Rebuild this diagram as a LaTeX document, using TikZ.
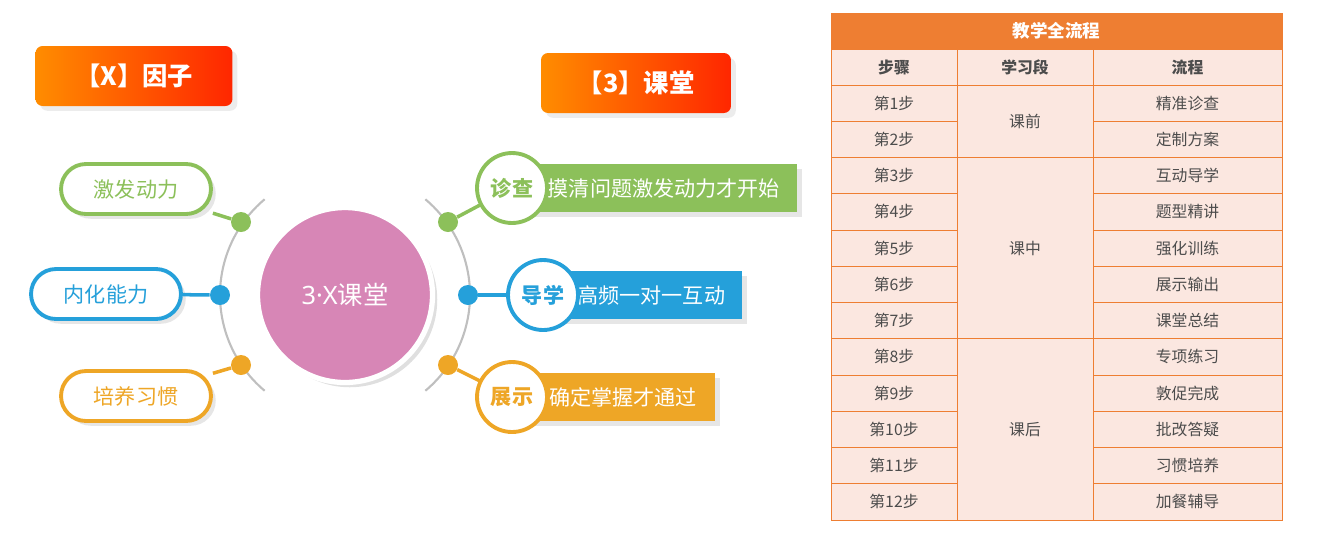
\documentclass[tikz,border=0pt]{standalone}
\usepackage{fontspec}
\setmainfont{Noto Sans CJK SC}
\newfontfamily\latinfont{Noto Sans}
\usetikzlibrary{positioning, calc, shadows}

\definecolor{hdorange}{HTML}{EE7E32}
\definecolor{cellpink}{HTML}{FBE7E0}
\definecolor{pinkc}{HTML}{D786B6}
\definecolor{greenc}{HTML}{8CC05A}
\definecolor{bluec}{HTML}{25A0DA}
\definecolor{orangec}{HTML}{EEA626}

\tikzset{
  tagbox/.style={rounded corners=4pt, left color=orange!90!yellow, right color=red!70!orange,
    text=white, font=\bfseries\Large, minimum height=1.2cm, drop shadow={opacity=0.15}},
  pill/.style={draw=#1, line width=2.2pt, fill=white, rounded corners=0.5cm, text=#1,
    font=\large, minimum width=3cm, minimum height=1cm, drop shadow={opacity=0.2}},
  dot/.style={circle, fill=#1, inner sep=0pt, minimum size=0.4cm},
  bar/.style={fill=#1, text=white, font=\large, minimum height=0.95cm, anchor=west,
    inner xsep=0.1cm, drop shadow={opacity=0.2}},
  badge/.style={circle, draw=#1, line width=2.2pt, fill=white, text=#1, font=\bfseries\large,
    minimum size=1.4cm, inner sep=0pt},
  cell/.style={draw=hdorange, fill=cellpink, text=black!70, font=\small, inner sep=0pt},
}

\begin{document}
\begin{tikzpicture}[x=0.02cm, y=-0.02cm]
  \useasboundingbox (0,0) rectangle (1327,542);

  % title tags
  \node[tagbox, minimum width=3.94cm] (tagX) at (134,76) {【X】因子};
  \node[tagbox, minimum width=3.8cm] (tag3) at (636,83) {【3】课堂};

  % centre
  \draw[black!25, line width=1.2pt] (345,295) ++(130:125) arc[start angle=130, end angle=230, radius=125];
  \draw[black!25, line width=1.2pt] (345,295) ++(50:125) arc[start angle=50, end angle=-50, radius=125];
  \node[circle, fill=pinkc, draw=white, line width=3pt, minimum size=3.5cm, text=white,
    font=\Large, drop shadow={opacity=0.25}] (core) at (345,295) {{\latinfont 3·X}课堂};

  % left factors
  \node[dot=greenc] (dl1) at (241,222) {};
  \node[dot=bluec] (dl2) at (220,295) {};
  \node[dot=orangec] (dl3) at (241,365) {};
  \node[pill=greenc] (pl1) at (136,189) {激发动力};
  \node[pill=bluec] (pl2) at (106,294) {内化能力};
  \node[pill=orangec] (pl3) at (136,396) {培养习惯};
  \draw[greenc, line width=2pt] (pl1) -- (dl1);
  \draw[bluec, line width=2pt] (pl2) -- (dl2);
  \draw[orangec, line width=2pt] (pl3) -- (dl3);

  % right steps
  \node[dot=greenc] (dr1) at (448,222) {};
  \node[dot=bluec] (dr2) at (468,295) {};
  \node[dot=orangec] (dr3) at (448,365) {};
  \node[bar=greenc, minimum width=5.34cm] (br1) at (530,188) {摸清问题激发动力才开始};
  \node[bar=bluec, minimum width=3.64cm] (br2) at (560,295) {高频一对一互动};
  \node[bar=orangec, minimum width=3.7cm] (br3) at (530,397) {确定掌握才通过};
  \fill[greenc] (512,165) rectangle (br1.south west);
  \fill[bluec] (543,271) rectangle (br2.south west);
  \fill[orangec] (512,373) rectangle (br3.south west);
  \draw[greenc, line width=2pt] (dr1) -- (512,188);
  \draw[bluec, line width=2pt] (dr2) -- (543,295);
  \draw[orangec, line width=2pt] (dr3) -- (512,397);
  \node[badge=greenc] (bg1) at (512,188) {诊查};
  \node[badge=bluec] (bg2) at (543,295) {导学};
  \node[badge=orangec] (bg3) at (512,397) {展示};

  % table
  \node[fill=hdorange, draw=hdorange, text=white, font=\bfseries, minimum width=9.02cm,
    minimum height=0.72cm, inner sep=0pt] (thead) at (1056.5,31) {教学全流程};
  \foreach \x/\w/\t in {894/2.52/步骤, 1025/2.72/学习段, 1187.5/3.78/流程}
    \node[cell, font=\small\bfseries, minimum width=\w cm, minimum height=0.72cm] at (\x,67) {\t};
  \foreach \i/\t in {1/精准诊查, 2/定制方案, 3/互动导学, 4/题型精讲, 5/强化训练, 6/展示输出,
      7/课堂总结, 8/专项练习, 9/敦促完成, 10/批改答疑, 11/习惯培养, 12/加餐辅导} {
    \node[cell, minimum width=2.52cm, minimum height=0.725cm] (s\i) at (894,{85+36.25*(\i-0.5)}) {第\i 步};
    \node[cell, minimum width=3.78cm, minimum height=0.725cm] (f\i) at (1187.5,{85+36.25*(\i-0.5)}) {\t};
  }
  \foreach \a/\b/\t in {1/2/课前, 3/7/课中, 8/12/课后}
    \node[cell, minimum width=2.72cm, minimum height={0.725cm*(\b-\a+1)}] at (1025,{85+36.25*(\a+\b-1)/2}) {\t};
\end{tikzpicture}
\end{document}
